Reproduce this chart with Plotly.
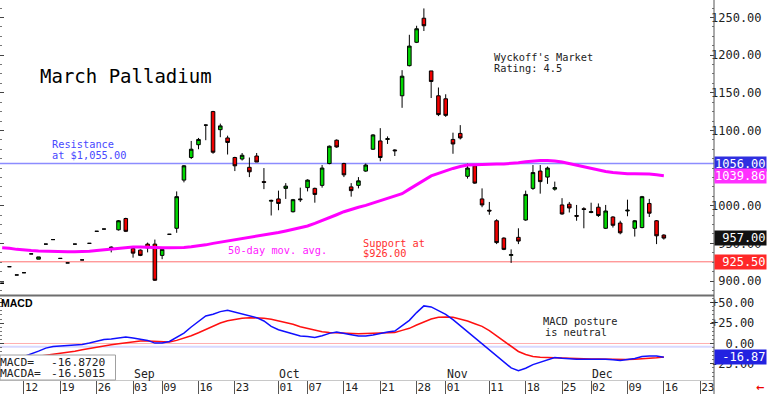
import pandas as pd
import plotly.graph_objects as go
from plotly.subplots import make_subplots

# ---------------- data ----------------
holidays = ["2019-09-02", "2019-11-28", "2019-12-25"]
first_day = "2019-08-07"
last_axis_day = "2019-12-24"

open_ = [897, 919, 908, 911, 936, 929, 949, 955, 930, 924,
         949, 928, 950, 966, 969, 945, 968, 983, 943, 941,
         949, 949, 934, 962, 970, 1034, 1064, 1081, 1107, 1125,
         1101, 1090, 1064, 1062, 1051, 1066, 1032, 1006, 1009, 1023,
         992, 1009, 1024, 1023, 1027, 1056, 1087, 1056, 1025, 1027,
         1046, 1075, 1086, 1088, 1074, 1146, 1186, 1217, 1249, 1179,
         1146, 1142, 1088, 1096, 1039, 1053, 1009, 994, 980, 957,
         934, 958, 981, 1023, 1046, 1038, 1022, 1001, 1002, 987,
         996, 991, 998, 970, 985, 977, 993, 970, 971, 1003,
         980, 961]
high = [897, 919, 908, 911, 936, 932, 949, 955, 930, 924,
        949, 928, 950, 966, 969, 946, 981, 984, 945, 942,
        951, 955, 943, 962, 1019, 1054, 1086, 1090, 1108, 1126,
        1109, 1093, 1065, 1070, 1064, 1070, 1050, 1008, 1020, 1030,
        1009, 1024, 1035, 1024, 1054, 1080, 1088, 1057, 1030, 1038,
        1056, 1095, 1103, 1092, 1075, 1180, 1227, 1239, 1262, 1179,
        1157, 1148, 1097, 1107, 1056, 1054, 1023, 1005, 982, 958,
        942, 970, 1020, 1054, 1054, 1052, 1032, 1010, 1005, 1001,
        998, 1004, 1003, 1001, 986, 980, 1008, 981, 1013, 1009,
        981, 962]
low = [897, 919, 908, 911, 936, 929, 949, 955, 930, 924,
       949, 928, 950, 966, 969, 938, 967, 965, 931, 933,
       938, 900, 929, 962, 964, 1031, 1062, 1075, 1087, 1069,
       1091, 1068, 1046, 1060, 1038, 1058, 1022, 987, 994, 1009,
       991, 1005, 1019, 1004, 1024, 1055, 1077, 1038, 1012, 1023,
       1045, 1074, 1059, 1082, 1066, 1130, 1185, 1216, 1232, 1143,
       1119, 1118, 1069, 1088, 1036, 1029, 998, 988, 949, 941,
       924, 949, 980, 1021, 1016, 1029, 1020, 988, 991, 980,
       970, 990, 985, 969, 971, 962, 986, 959, 970, 985,
       949, 955]
close = [897, 919, 908, 911, 936, 932, 949, 955, 930, 924,
         949, 928, 950, 966, 969, 944, 980, 966, 937, 934,
         944, 901, 942, 962, 1012, 1053, 1075, 1088, 1107, 1071,
         1106, 1084, 1053, 1067, 1045, 1058, 1031, 1007, 1003, 1026,
         1008, 1008, 1034, 1015, 1050, 1079, 1078, 1041, 1020, 1033,
         1054, 1094, 1064, 1089, 1073, 1172, 1212, 1235, 1239, 1165,
         1121, 1120, 1082, 1090, 1050, 1030, 1001, 993, 951, 942,
         935, 953, 1015, 1044, 1032, 1050, 1024, 989, 997, 986,
         995, 992, 987, 993, 974, 964, 994, 980, 1012, 990,
         960, 957]
ma50 = [944, 943.5, 942, 941, 940.5, 940, 939.5, 939, 939, 939,
        939, 939, 939.5, 940.5, 941.5, 942.5, 943.5, 945, 945, 945,
        944.5, 944, 944, 944, 944, 944.5, 945.5, 946.5, 948, 950,
        951.5, 953, 954.5, 956, 957.5, 959, 960.5, 962.5, 964.5, 966.5,
        968.5, 970, 973, 976.5, 980, 983.5, 988, 992, 995.5, 998,
        1000.5, 1003.5, 1007, 1010, 1013, 1016, 1022, 1028, 1034, 1039.5,
        1043, 1046.5, 1049.5, 1052, 1054, 1054.5, 1055, 1055, 1055.5, 1055.5,
        1056, 1057, 1058.5, 1059.5, 1060, 1060, 1059.5, 1058, 1056, 1053.5,
        1051, 1049, 1047, 1045.5, 1044, 1043, 1042.5, 1042.5, 1042.5, 1042,
        1041, 1039.86]
macd = [-23, -21, -19, -16, -13.1, -9.4, -5.7, -3.7, -3.2, -2.8,
        -1.6, -1.2, 0.5, 2.5, 5.0, 5.4, 7.0, 7.9, 6.6, 5.0,
        3.8, 0.5, 0.5, 2.5, 7.9, 12.8, 20.2, 27.2, 33.8, 35.8,
        39.1, 40.8, 38.3, 36.3, 34.2, 31.7, 27.6, 21.0, 16.9, 14.4,
        12.0, 9.1, 8.7, 7.5, 9.5, 12.4, 14.0, 12.8, 10.7, 9.1,
        9.1, 10.3, 12.4, 14.0, 15.3, 21.9, 28.4, 37.9, 46.1, 44.9,
        40.8, 35.8, 29.3, 21.9, 14.0, 7.5, -0.4, -7.4, -14.8, -22.2,
        -30.0, -33.3, -30.4, -25.9, -23.0, -19.3, -17.2, -18.1, -18.9, -19.3,
        -19.3, -19.3, -18.9, -19.3, -20.1, -20.9, -19.7, -18.5, -16.0, -15.2,
        -15.5, -16.872]
macda = [-24, -22, -20, -18.5, -17, -15.8, -14.8, -13.5, -12.3, -10.7,
         -9.4, -7.8, -6.1, -4.5, -3.2, -1.6, -0.4, 0.9, 2.1, 2.9,
         2.9, 2.5, 1.7, 1.7, 3.8, 6.2, 9.5, 13.2, 17.3, 21.4,
         25.1, 28.0, 29.7, 30.9, 31.7, 31.7, 30.9, 29.7, 27.6, 26.0,
         23.5, 20.6, 18.6, 16.1, 14.4, 13.6, 13.2, 12.8, 12.0, 12.0,
         12.4, 12.8, 12.8, 12.8, 13.6, 16.1, 18.6, 22.7, 26.8, 30.1,
         32.1, 32.6, 32.1, 30.1, 27.6, 24.3, 21.0, 15.7, 9.5, 2.9,
         -3.7, -9.8, -13.5, -16.0, -16.8, -17.2, -17.6, -18.1, -18.5, -18.5,
         -18.9, -18.9, -18.9, -19.3, -19.7, -19.7, -19.7, -19.3, -18.9, -18.5,
         -17.6, -16.5015]

resistance = 1056.00
support = 925.50
macd_ref = -4.0

tick_dates = ["2019-08-12", "2019-08-19", "2019-08-26", "2019-09-03", "2019-09-09",
              "2019-09-16", "2019-09-23", "2019-10-01", "2019-10-07", "2019-10-14",
              "2019-10-21", "2019-10-28", "2019-11-01", "2019-11-11", "2019-11-18",
              "2019-11-25", "2019-12-02", "2019-12-09", "2019-12-16", "2019-12-23"]
tick_labels = [d[-2:] for d in tick_dates]
month_dates = ["2019-09-03", "2019-10-01", "2019-11-01", "2019-12-02"]
month_labels = ["Sep", "Oct", "Nov", "Dec"]
price_ticks = [900, 950, 1000, 1100, 1150, 1200, 1250]
macd_ticks = [50, 25, 0, -25]

# ---------------- build ----------------
all_days = [d.strftime("%Y-%m-%d") for d in pd.bdate_range(first_day, last_axis_day)
            if d.strftime("%Y-%m-%d") not in holidays]
n = len(close)
dates = all_days[:n]

MONO = "DejaVu Sans Mono"
NB = "\u00a0"

PW, PH = 714, 380


def pxx(x):
    return x / PW


def pyy(y):
    return (PH - y) / PH


fig = make_subplots(rows=2, cols=1, shared_xaxes=True, vertical_spacing=0)

fig.add_trace(go.Candlestick(
    x=dates, open=open_, high=high, low=low, close=close,
    increasing=dict(fillcolor="#00d800", line=dict(color="#000000", width=1)),
    decreasing=dict(fillcolor="#f00000", line=dict(color="#000000", width=1)),
    whiskerwidth=0, showlegend=False, hoverinfo="skip"), row=1, col=1)

fig.add_trace(go.Scatter(x=dates, y=ma50, mode="lines",
                         line=dict(color="#ff00ff", width=3),
                         showlegend=False, hoverinfo="skip"), row=1, col=1)

fig.add_trace(go.Scatter(x=dates, y=macda, mode="lines",
                         line=dict(color="#ff1010", width=1.5),
                         showlegend=False, hoverinfo="skip"), row=2, col=1)
fig.add_trace(go.Scatter(x=dates, y=macd, mode="lines",
                         line=dict(color="#1010ff", width=1.5),
                         showlegend=False, hoverinfo="skip"), row=2, col=1)

shapes = [
    dict(type="line", xref="paper", x0=0, x1=1, yref="y", y0=resistance, y1=resistance,
         line=dict(color="#8c8cff", width=1.5), layer="below"),
    dict(type="line", xref="paper", x0=0, x1=1, yref="y", y0=support, y1=support,
         line=dict(color="#ff7070", width=1), layer="below"),
    dict(type="line", xref="paper", x0=0, x1=1, yref="y2", y0=0, y1=0,
         line=dict(color="#ffb0b0", width=1), layer="below"),
    dict(type="line", xref="paper", x0=0, x1=1, yref="y2", y0=macd_ref, y1=macd_ref,
         line=dict(color="#d8d8ff", width=2), layer="below"),
    # panel separator
    dict(type="line", xref="paper", x0=0, x1=1, yref="paper", y0=pyy(295.5), y1=pyy(295.5),
         line=dict(color="#6e6e6e", width=2)),
    # right axis line
    dict(type="line", xref="paper", x0=1, x1=1, yref="paper", y0=-0.04, y1=1,
         line=dict(color="#555555", width=1)),
    # readout box
    dict(type="rect", xref="paper", x0=0, x1=pxx(115.5), yref="paper", y0=0, y1=pyy(355),
         line=dict(color="#a0a0a0", width=1), fillcolor="white"),
]

annotations = []


def txt(text, x, y, size, color="#000000", family=MONO, **kw):
    annotations.append(dict(text=text, xref="paper", yref="paper", x=pxx(x), y=pyy(y),
                            xanchor="left", yanchor="middle", showarrow=False,
                            font=dict(family=family, size=size, color=color), **kw))


txt("March" + NB + "Palladium", 38, 76, 19)
txt("Wyckoff's" + NB + "Market", 492, 57, 10.3, "#222222")
txt("Rating:" + NB + "4.5", 492, 68, 10.3, "#222222")
txt("Resistance", 50, 144, 10.3, "#4848ff")
txt("at" + NB + "$1,055.00", 50, 155, 10.3, "#4848ff")
txt("Support" + NB + "at", 361, 243, 10.3, "#ff3030")
txt("$926.00", 361, 253, 10.3, "#ff3030")
txt("50-day" + NB + "mov." + NB + "avg.", 226, 250, 10.3, "#ff20ff")
txt("MACD" + NB + "posture", 541, 321, 10.3, "#222222")
txt("is" + NB + "neutral", 543, 331.5, 10.3, "#222222")
txt("<b>MACD</b>", -1, 303, 10.5, "#000000", family="Liberation Sans")
txt("MACD=", -2, 362, 11.3, "#222222")
txt("MACDA=", -2, 373, 11.3, "#222222")
txt("%.4f" % macd[-1], 49, 362, 11.3, "#222222")
txt("%.4f" % macda[-1], 49, 373, 11.3, "#222222")

for d, lab in zip(month_dates, month_labels):
    annotations.append(dict(text=lab, xref="x2", yref="paper", x=all_days.index(d), y=pyy(373.5),
                            xanchor="left", yanchor="middle", showarrow=False, xshift=-1,
                            font=dict(family=MONO, size=11.5, color="#222222")))

# value boxes on the right axis
boxes = [
    ("%.2f" % resistance, resistance, "y", "#2f2fe0"),
    ("%.2f" % ma50[-1], ma50[-1], "y", "#ff30ff"),
    ("%.2f" % close[-1], close[-1], "y", "#111111"),
    ("%.2f" % support, support, "y", "#ff2828"),
    ("%.2f" % macd[-1], macd[-1], "y2", "#2222e0"),
]
for label, val, yr, col in boxes:
    annotations.append(dict(text=label.rjust(7, NB), xref="paper", yref=yr, x=1, y=val,
                            xanchor="left", yanchor="middle", showarrow=False, xshift=0,
                            bgcolor=col, borderpad=0,
                            font=dict(family=MONO, size=12, color="white")))

annotations.append(dict(text="<b>\u2190</b>", xref="paper", yref="paper", x=1, y=pyy(387),
                        xanchor="left", yanchor="middle", showarrow=False, xshift=40,
                        font=dict(family="DejaVu Sans", size=10, color="#ee0000")))

price_text = [("%.2f" % v).rjust(7, NB) for v in price_ticks]
macd_text = []
for v in macd_ticks:
    s = ("%+.2f" % v) if v != 0 else "%.2f" % v
    macd_text.append(s.rjust(6, NB))

fig.update_layout(
    width=768, height=394,
    margin=dict(l=0, r=54, t=0, b=14),
    paper_bgcolor="white", plot_bgcolor="white",
    showlegend=False,
    shapes=shapes, annotations=annotations,
    xaxis=dict(type="category", categoryorder="array", categoryarray=all_days,
               range=[-0.3, 97.9], showticklabels=False, ticks="", showgrid=False,
               zeroline=False, showline=False, rangeslider=dict(visible=False)),
    xaxis2=dict(type="category", categoryorder="array", categoryarray=all_days,
                range=[-0.3, 97.9], showgrid=False, zeroline=False,
                showline=True, linecolor="#c8c8c8", linewidth=1,
                tickmode="array", tickvals=tick_dates, ticktext=tick_labels,
                ticks="outside", ticklen=14, tickcolor="#555555", tickwidth=1,
                ticklabelposition="outside right", ticklabelstandoff=-3,
                tickfont=dict(family=MONO, size=11, color="#222222"),
                rangeslider=dict(visible=False)),
    yaxis=dict(domain=[pyy(295), 1], range=[881.4, 1273.2], side="right",
               tickmode="array", tickvals=price_ticks, ticktext=price_text,
               ticks="inside", ticklen=4, tickcolor="#444444", mirror="ticks",
               ticklabelstandoff=-4,
               minor=dict(ticks="inside", ticklen=2, dtick=12.5, tickcolor="#777777"),
               showgrid=False, zeroline=False, showline=False,
               tickfont=dict(family=MONO, size=12, color="#222222")),
    yaxis2=dict(domain=[0, pyy(296.5)], range=[-44.8, 57.65], side="right",
                tickmode="array", tickvals=macd_ticks, ticktext=macd_text,
                ticks="inside", ticklen=4, tickcolor="#444444", mirror="ticks",
                ticklabelstandoff=-4,
                minor=dict(ticks="inside", ticklen=2, dtick=5, tickcolor="#777777"),
                showgrid=False, zeroline=False, showline=False,
                tickfont=dict(family=MONO, size=12, color="#222222")),
)

fig.write_html("out.html", config={"displayModeBar": False},
               post_script="document.body.style.margin='0';document.body.style.overflow='hidden';")
